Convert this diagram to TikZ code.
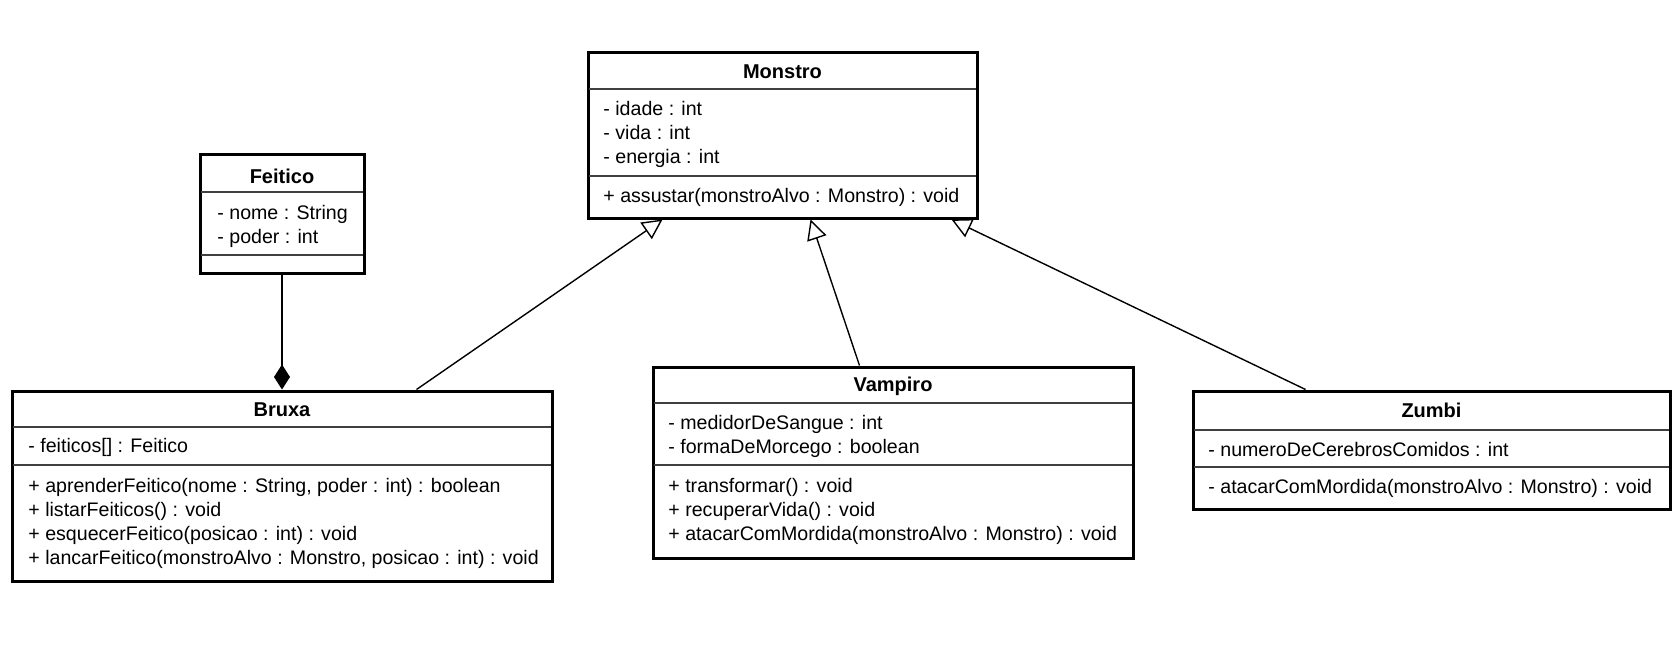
\documentclass[tikz,border=0pt]{standalone}
\usepackage{fontspec}
\setmainfont{Liberation Sans}
\usetikzlibrary{arrows.meta}

\tikzset{
  classbox/.style = {draw, line width=1.5pt, fill=white, inner sep=0pt},
  divider/.style = {line width=0.6pt, black!75},
  title/.style = {font=\bfseries, inner sep=0pt},
  members/.style = {anchor=west, align=left, inner sep=0pt},
  inherit/.style = {-{Triangle[open, length=10pt, width=10pt]}, line width=0.7pt},
  composition/.style = {-{Diamond[length=12.5pt, width=8pt]}, line width=0.7pt},
}

\begin{document}
\begin{tikzpicture}[x=0.5pt, y=-0.5pt, font=\fontsize{9.8}{12}\selectfont]
        \useasboundingbox (0,0) rectangle (1680,647);

        % Monstro
        \node[classbox, minimum width=194.5pt, minimum height=82.5pt] (monstro) at (782.5,135.5) {};
        \node[title] (monstroname) at (782.5,72) {Monstro};
        \draw[divider] (589,89) -- (976,89);
        \draw[divider] (589,176) -- (976,176);
        \node[members] (monstroattr) at (603,134) {- idade : int\\- vida : int\\- energia : int};
        \node[members] (monstroops) at (603,197) {+ assustar(monstroAlvo : Monstro) : void};

        % Feitico
        \node[classbox, minimum width=82pt, minimum height=59.5pt] (feitico) at (282,213.5) {};
        \node[title] (feiticoname) at (282,176) {Feitico};
        \draw[divider] (201,192) -- (363,192);
        \draw[divider] (201,255) -- (363,255);
        \node[members] (feiticoattr) at (217,226) {- nome : String\\- poder : int};

        % Bruxa
        \node[classbox, minimum width=270pt, minimum height=95pt] (bruxa) at (282,486) {};
        \node[title] (bruxaname) at (282,410) {Bruxa};
        \draw[divider] (13,427) -- (551,427);
        \draw[divider] (13,465) -- (551,465);
        \node[members] (bruxaattr) at (28,447) {- feiticos[] : Feitico};
        \node[members] (bruxaops) at (28,523) {+ aprenderFeitico(nome : String, poder : int) : boolean\\+ listarFeiticos() : void\\+ esquecerFeitico(posicao : int) : void\\+ lancarFeitico(monstroAlvo : Monstro, posicao : int) : void};

        % Vampiro
        \node[classbox, minimum width=240pt, minimum height=95.5pt] (vampiro) at (893,462.5) {};
        \node[title] (vampironame) at (893,386) {Vampiro};
        \draw[divider] (654,403) -- (1132,403);
        \draw[divider] (654,465) -- (1132,465);
        \node[members] (vampiroattr) at (668,436) {- medidorDeSangue : int\\- formaDeMorcego : boolean};
        \node[members] (vampiroops) at (668,511) {+ transformar() : void\\+ recuperarVida() : void\\+ atacarComMordida(monstroAlvo : Monstro) : void};

        % Zumbi
        \node[classbox, minimum width=238.5pt, minimum height=59pt] (zumbi) at (1431.5,450) {};
        \node[title] (zumbiname) at (1431.5,410) {Zumbi};
        \draw[divider] (1194,430) -- (1669,430);
        \draw[divider] (1194,467) -- (1669,467);
        \node[members] (zumbiattr) at (1208,449) {- numeroDeCerebrosComidos : int};
        \node[members] (zumbiops) at (1208,488) {- atacarComMordida(monstroAlvo : Monstro) : void};

        % relations
        \draw[composition] (feitico) -- (bruxa);
        \draw[inherit] ([xshift=203pt]bruxa.north west) -- ([xshift=38pt]monstro.south west);
        \draw[inherit] ([xshift=104pt]vampiro.north west) -- ([xshift=112pt]monstro.south west);
        \draw[inherit] ([xshift=57pt]zumbi.north west) -- ([xshift=182.5pt]monstro.south west);
      \end{tikzpicture}
\end{document}
